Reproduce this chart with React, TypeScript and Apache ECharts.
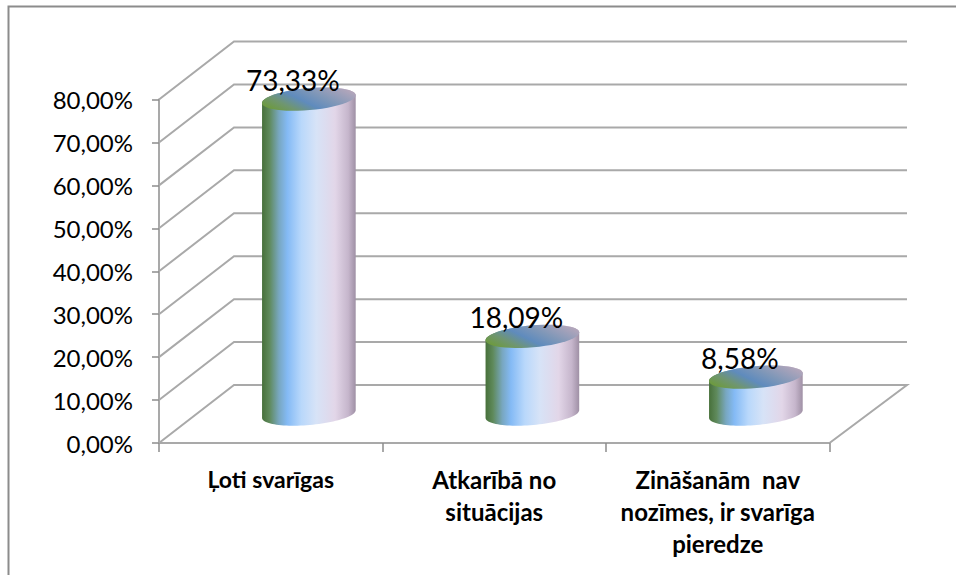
import React, { useEffect, useRef } from "react";
import * as echarts from "echarts";

const categories = ["Ļoti svarīgas", "Atkarībā no\nsituācijas", "Zināšanām  nav\nnozīmes, ir svarīga\npieredze"];
const shares = [73.33, 18.09, 8.58];
const yTicks = [0, 10, 20, 30, 40, 50, 60, 70, 80];

const FONT = "Lato, 'Open Sans', sans-serif";
const LINE = "#a9a9a9";
const DEPTH_LEFT = 75;
const DEPTH_RIGHT = 77.5;
const DEPTH_Y = 58;
const RX = 47;
const RY = 11;
const TILT = -5;
const ARC_STEPS = 48;

const fmt = (v: number) => v.toFixed(2).replace(".", ",") + "%";

const renderGrid = (_: any, api: any) => {
  const v = api.value(1);
  const c = api.coord([0, v]);
  const band = api.size([1, 0])[0];
  const x0 = c[0] - band / 2;
  const x1 = x0 + band * 3;
  const points: number[][] = [
    [x0, c[1]],
    [x0 + DEPTH_LEFT, c[1] - DEPTH_Y],
    [x1 + DEPTH_RIGHT, c[1] - DEPTH_Y],
  ];
  if (v === 0) points.push([x1, c[1]]);
  return {
    type: "polyline",
    shape: { points },
    style: { stroke: LINE, fill: "none", lineWidth: 2 },
    silent: true,
  };
};

const bodyGradient = () =>
  new echarts.graphic.LinearGradient(0, 0, 1, 0, [
    { offset: 0, color: "#47703a" },
    { offset: 0.08, color: "#5f8a5c" },
    { offset: 0.18, color: "#78a7c0" },
    { offset: 0.27, color: "#84baf5" },
    { offset: 0.42, color: "#b9d8fb" },
    { offset: 0.58, color: "#d7e3f7" },
    { offset: 0.78, color: "#e2d6e8" },
    { offset: 0.92, color: "#c6b6cc" },
    { offset: 1, color: "#9f90a5" },
  ]);

const topGradient = () =>
  new echarts.graphic.LinearGradient(0, 0.75, 1, 0.25, [
    { offset: 0, color: "#6d9a3e" },
    { offset: 0.2, color: "#6f9670" },
    { offset: 0.42, color: "#5f8bbd" },
    { offset: 0.65, color: "#7f97b8" },
    { offset: 1, color: "#b3a6bb" },
  ]);

// Outline of the tilted ellipse, from angle a0 to a1 around (cx, cy).
const ellipseArc = (cx: number, cy: number, a0: number, a1: number) => {
  const rad = (TILT * Math.PI) / 180;
  const pts: number[][] = [];
  for (let i = 0; i <= ARC_STEPS; i++) {
    const a = a0 + ((a1 - a0) * i) / ARC_STEPS;
    const ux = RX * Math.cos(a);
    const uy = RY * Math.sin(a);
    pts.push([cx + ux * Math.cos(rad) - uy * Math.sin(rad), cy + ux * Math.sin(rad) + uy * Math.cos(rad)]);
  }
  return pts;
};

const renderCylinder = (_: any, api: any) => {
  const front = api.coord([api.value(0), api.value(1)]);
  const base = api.coord([api.value(0), 0]);
  const cx = front[0] + (DEPTH_LEFT + DEPTH_RIGHT) / 4;
  const topY = front[1] - DEPTH_Y / 2;
  const botY = base[1] - DEPTH_Y / 2;
  const body = [...ellipseArc(cx, botY, Math.PI, 0), ...ellipseArc(cx, topY, 0, -Math.PI)];
  const top = ellipseArc(cx, topY, 0, Math.PI * 2);
  return {
    type: "group",
    silent: true,
    children: [
      { type: "polygon", shape: { points: body }, style: { fill: bodyGradient() } },
      { type: "polygon", shape: { points: top }, style: { fill: topGradient() } },
      {
        type: "text",
        x: cx - 16,
        y: topY - 19,
        style: {
          text: fmt(api.value(1)),
          fill: "#000",
          font: `28px ${FONT}`,
          align: "center",
          verticalAlign: "middle",
        },
      },
    ],
  };
};

export default function App() {
  const ref = useRef<HTMLDivElement>(null);
  useEffect(() => {
    const chart = echarts.init(ref.current!, null, { renderer: "svg" });
    chart.setOption({
      animation: false,
      backgroundColor: "#fff",
      graphic: [
        {
          type: "polyline",
          silent: true,
          shape: { points: [[8.5, 575], [8.5, 6.5], [956, 6.5]] },
          style: { stroke: "#8c8c8c", fill: "none", lineWidth: 2 },
        },
      ],
      grid: { left: 159, top: 99.5, width: 670.5, height: 343.5, containLabel: false },
      xAxis: {
        type: "category",
        data: categories,
        boundaryGap: true,
        axisLine: { show: true, lineStyle: { color: LINE, width: 2 } },
        axisTick: { show: true, length: 9, alignWithLabel: false, lineStyle: { color: "#8c8c8c", width: 1.5 } },
        axisLabel: {
          interval: 0,
          margin: 20,
          fontFamily: FONT,
          fontWeight: "bold",
          fontSize: 24,
          lineHeight: 32,
          color: "#000",
          align: "center",
          verticalAlign: "top",
          formatter: (v: string, i: number) => (i === 0 ? `{narrow|${v}}` : v),
          rich: {
            narrow: { fontFamily: FONT, fontWeight: "bold", fontSize: 23, lineHeight: 32, color: "#000" },
          },
        },
      },
      yAxis: {
        type: "value",
        min: 0,
        max: 80,
        interval: 10,
        splitLine: { show: false },
        axisLine: { show: true, lineStyle: { color: LINE, width: 2 } },
        axisTick: { show: true, length: 7, lineStyle: { color: "#8c8c8c", width: 1.5 } },
        axisLabel: {
          margin: 26,
          fontFamily: FONT,
          fontSize: 24,
          color: "#000",
          formatter: (v: number) => fmt(v),
        },
      },
      series: [
        {
          type: "custom",
          coordinateSystem: "cartesian2d",
          clip: false,
          silent: true,
          z: 1,
          renderItem: renderGrid,
          data: yTicks.map((v) => [0, v]),
        },
        {
          type: "custom",
          coordinateSystem: "cartesian2d",
          clip: false,
          silent: true,
          z: 3,
          renderItem: renderCylinder,
          data: shares.map((v, i) => [i, v]),
        },
      ],
    });
    return () => chart.dispose();
  }, []);
  return <div ref={ref} style={{ position: "absolute", left: 0, top: 0, width: 956, height: 575 }} />;
}
